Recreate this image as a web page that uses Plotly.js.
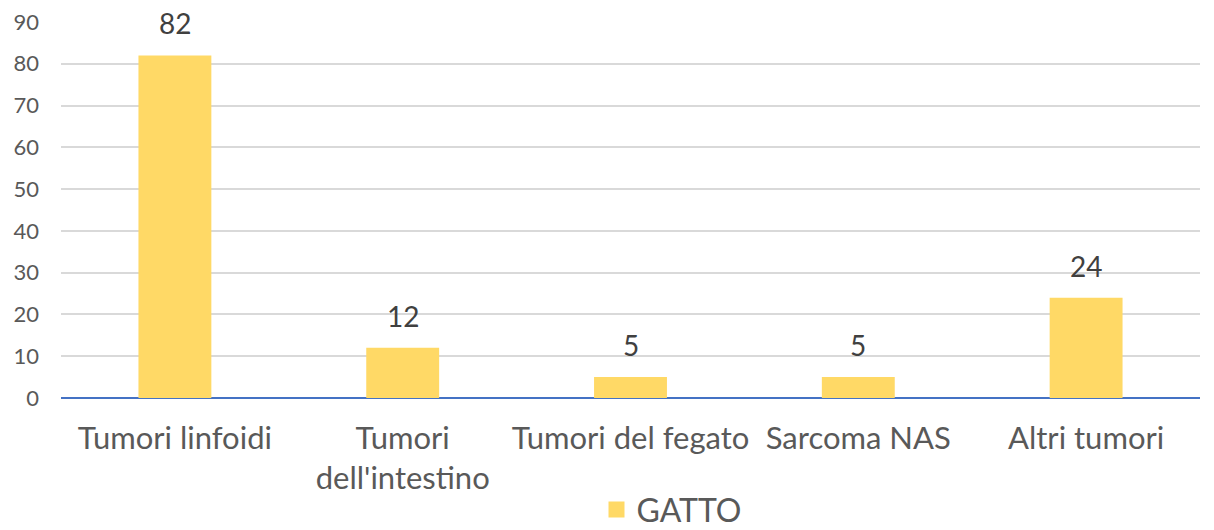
<!DOCTYPE html>
<html><head><meta charset="utf-8">
<script src="https://cdn.plot.ly/plotly-3.0.1.min.js"></script>
<style>html,body{margin:0;padding:0;background:#fff}#c{width:1214px;height:530px}</style>
</head><body><div id="c"></div>
<script>
const categories = ["Tumori linfoidi", "Tumori<br>dell'intestino", "Tumori del fegato", "Sarcoma NAS", "Altri tumori"];
const gatto = [82, 12, 5, 5, 24];
const yTicks = [0, 10, 20, 30, 40, 50, 60, 70, 80, 90];
const seriesName = "GATTO";
const barColor = '#FFD966';

const font = "Lato, 'Open Sans', sans-serif";
const labels = categories.map((c, i) => ({
  x: c, y: gatto[i], text: String(gatto[i]), xref: 'x', yref: 'y',
  showarrow: false, yanchor: 'bottom', yshift: 13,
  font: {family: font, size: 28, color: '#404040'}
}));
Plotly.newPlot('c', [{
  type: 'bar', x: categories, y: gatto, name: seriesName, showlegend: false,
  marker: {color: barColor}, width: 0.32, hoverinfo: 'x+y'
}, {
  type: 'scatter', mode: 'markers', x: [null], y: [null], name: seriesName,
  marker: {symbol: 'square', size: 16, color: barColor}, hoverinfo: 'skip'
}], {
  width: 1214, height: 530,
  margin: {l: 61, r: 14, t: 22, b: 132, autoexpand: false},
  paper_bgcolor: '#fff', plot_bgcolor: '#fff',
  showlegend: true,
  annotations: labels,
  legend: {orientation: 'h', x: 0.536, xanchor: 'center', y: -0.297, yanchor: 'middle',
    itemwidth: 30, font: {family: font, size: 32, color: '#595959'}},
  xaxis: {tickfont: {family: font, size: 31, color: '#595959'}, showgrid: false,
    showline: false, ticks: '', ticklabelstandoff: 19, automargin: false},
  yaxis: {range: [0, 90], tickvals: yTicks, tickfont: {family: font, size: 22, color: '#595959'},
    gridcolor: '#D9D9D9', gridwidth: 1.5, zeroline: true, zerolinecolor: '#4472C4', zerolinewidth: 2,
    ticks: '', ticklabelstandoff: 21, automargin: false}
}, {displayModeBar: false});
</script></body></html>
